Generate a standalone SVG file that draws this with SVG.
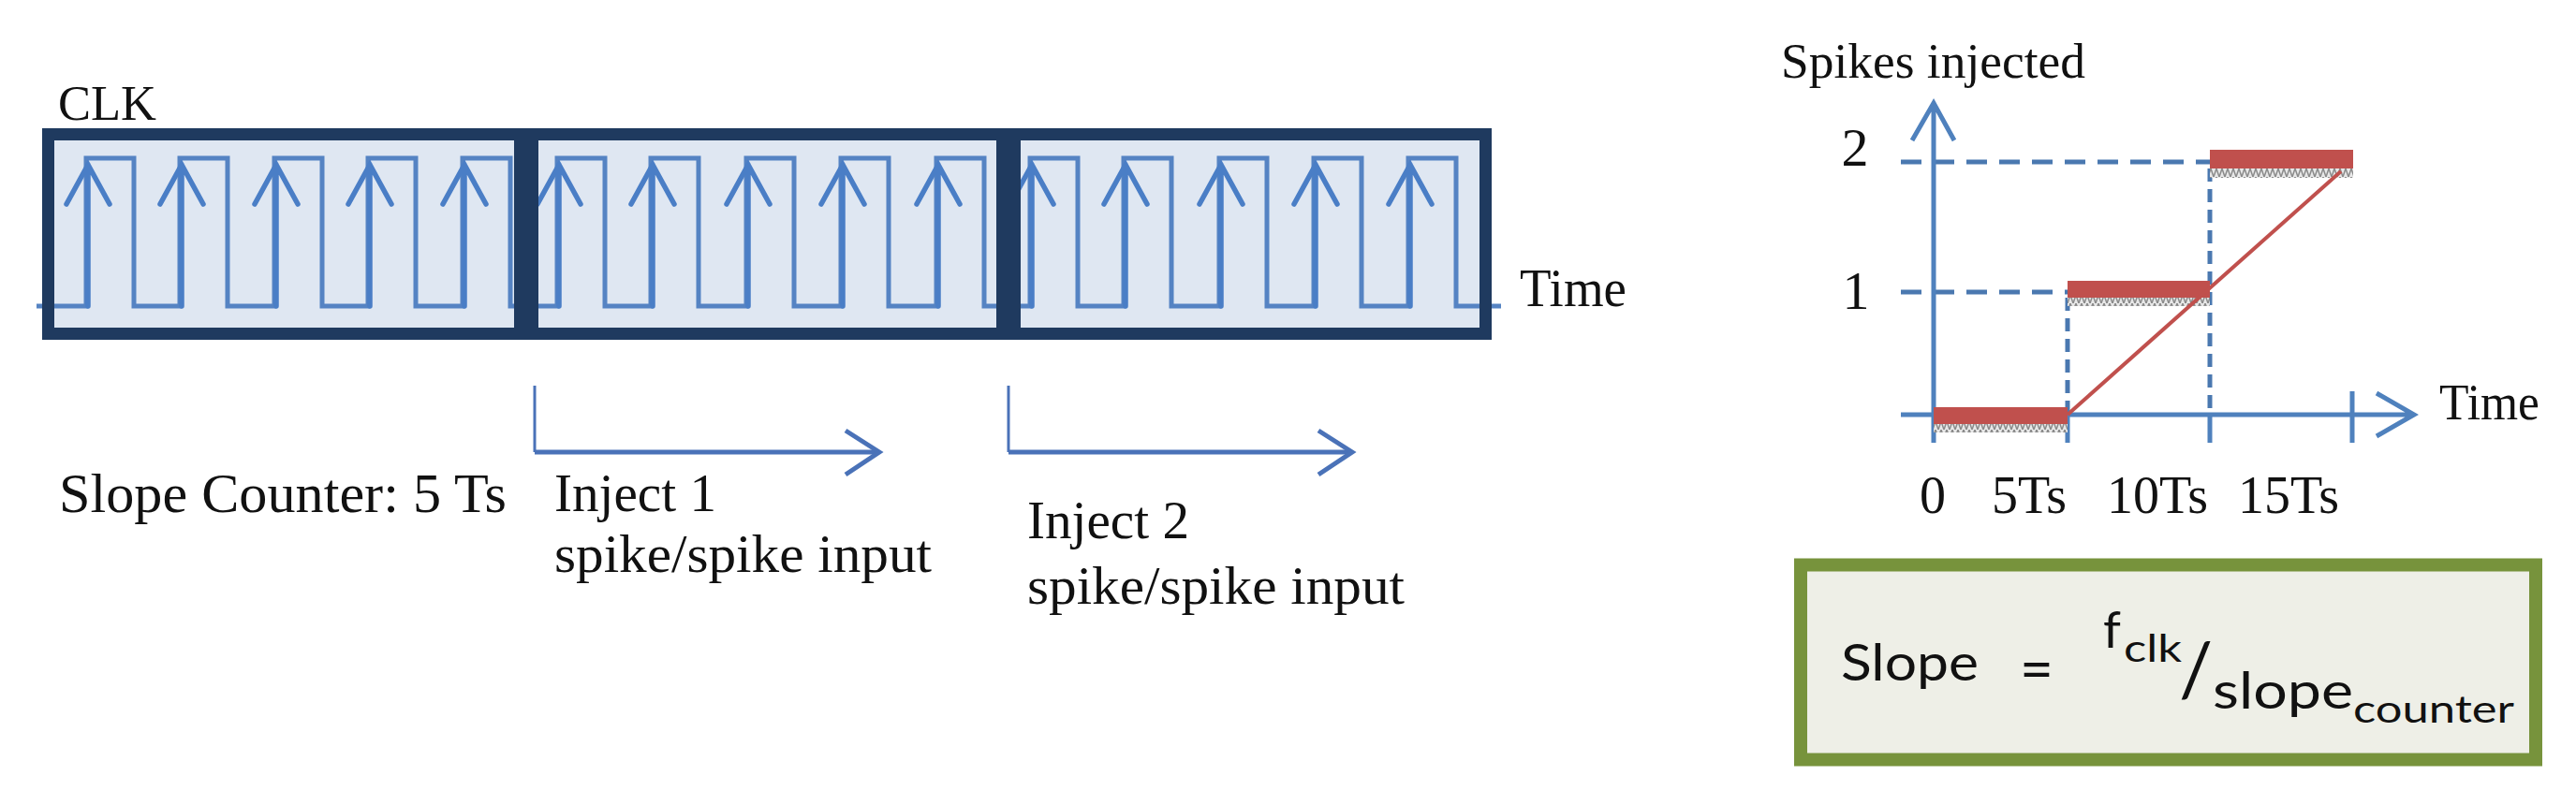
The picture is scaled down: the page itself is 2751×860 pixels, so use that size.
<svg xmlns="http://www.w3.org/2000/svg" xmlns:xlink="http://www.w3.org/1999/xlink" width="2751" height="860" viewBox="0 0 2751 860">
<style>
.serif{font-family:"Liberation Serif","Times New Roman",serif;fill:#111;}
.sans{font-family:Lato,"Open Sans","Noto Sans",sans-serif;fill:#111;}
.boxfill{fill:#dfe7f2;stroke:none;}
.boxline{fill:none;stroke:#1f3a5f;stroke-width:13;}
.wave{fill:none;stroke:#5583c3;stroke-width:5;stroke-linejoin:miter;}
.clkarrow{fill:none;stroke:#4a7ec6;stroke-width:5.5;stroke-linecap:round;}
.axis{fill:none;stroke:#4f81bd;stroke-width:5;}
.dash{fill:none;stroke:#4a78b0;stroke-width:5;}
.bar{fill:#c0504d;}
.hatch{fill:url(#hatchPat);}
.conn{fill:none;stroke:#4a72b8;}
</style>
<defs>
<path id="clkArrow" d="M0 327 V176 M-23 218 L0 176 L23 218"/>
<pattern id="hatchPat" width="6" height="9" patternUnits="userSpaceOnUse">
<rect width="6" height="9" fill="#e8e8e8"/>
<path d="M0 9 L3 0 L6 9" fill="none" stroke="#8a8a8a" stroke-width="1.5"/>
</pattern>
</defs>

<g id="clk-label"><text class="serif" x="62" y="128" font-size="52" textLength="105" lengthAdjust="spacingAndGlyphs">CLK</text></g>

<g id="clock-boxes-fill">
<rect class="boxfill" x="51.5" y="143.5" width="504" height="213"/>
<rect class="boxfill" x="568.5" y="143.5" width="502" height="213"/>
<rect class="boxfill" x="1083.5" y="143.5" width="503" height="213"/>
</g>

<g id="clock-waveform">
<path class="wave" d="M39 327 H92 V169 H143 V327 H192 V169 H243 V327 H293 V169 H344 V327 H393 V169 H444 V327 H494 V169 H545 V327 H595 V169 H646 V327 H695 V169 H746 V327 H797 V169 H848 V327 H898 V169 H949 V327 H1000 V169 H1051 V327 H1100 V169 H1151 V327 H1200 V169 H1251 V327 H1302 V169 H1353 V327 H1403 V169 H1454 V327 H1504 V169 H1555 V327 H1603"/>
<g class="clkarrow">
<use xlink:href="#clkArrow" x="94"/>
<use xlink:href="#clkArrow" x="194"/>
<use xlink:href="#clkArrow" x="295"/>
<use xlink:href="#clkArrow" x="395"/>
<use xlink:href="#clkArrow" x="496"/>
<use xlink:href="#clkArrow" x="597"/>
<use xlink:href="#clkArrow" x="697"/>
<use xlink:href="#clkArrow" x="799"/>
<use xlink:href="#clkArrow" x="900"/>
<use xlink:href="#clkArrow" x="1002"/>
<use xlink:href="#clkArrow" x="1102"/>
<use xlink:href="#clkArrow" x="1202"/>
<use xlink:href="#clkArrow" x="1304"/>
<use xlink:href="#clkArrow" x="1405"/>
<use xlink:href="#clkArrow" x="1506"/>
</g>
</g>

<g id="clk-box-1"><rect class="boxline" x="51.5" y="143.5" width="504" height="213"/></g>
<g id="clk-box-2"><rect class="boxline" x="568.5" y="143.5" width="502" height="213"/></g>
<g id="clk-box-3"><rect class="boxline" x="1083.5" y="143.5" width="503" height="213"/></g>

<g id="time-label-left"><text class="serif" x="1623" y="327" font-size="56" textLength="114" lengthAdjust="spacingAndGlyphs">Time</text></g>

<g id="slope-counter-label"><text class="serif" x="63" y="547" font-size="60" textLength="478" lengthAdjust="spacingAndGlyphs">Slope Counter: 5 Ts</text></g>
<g id="inject-1-label">
<text class="serif" x="592" y="546" font-size="58" textLength="173" lengthAdjust="spacingAndGlyphs">Inject 1</text>
<text class="serif" x="592" y="611" font-size="58" textLength="403" lengthAdjust="spacingAndGlyphs">spike/spike input</text>
</g>
<g id="inject-2-label">
<text class="serif" x="1097" y="575" font-size="58" textLength="173" lengthAdjust="spacingAndGlyphs">Inject 2</text>
<text class="serif" x="1097" y="645" font-size="58" textLength="403" lengthAdjust="spacingAndGlyphs">spike/spike input</text>
</g>

<g id="connectors">
<path class="conn" stroke-width="3" d="M571 412 V483"/>
<path class="conn" stroke-width="5" d="M571 483 H937"/>
<path class="conn" stroke-width="5" d="M903 460 L939 483 L903 507"/>
<path class="conn" stroke-width="3" d="M1077 412 V483"/>
<path class="conn" stroke-width="5" d="M1077 483 H1442"/>
<path class="conn" stroke-width="5" d="M1408 460 L1444 483 L1408 507"/>
</g>

<g id="spikes-chart">
<text class="serif" x="1902" y="83" font-size="53" textLength="325" lengthAdjust="spacingAndGlyphs">Spikes injected</text>
<text class="serif" x="1981" y="177" font-size="58" text-anchor="middle">2</text>
<text class="serif" x="1982" y="330" font-size="58" text-anchor="middle">1</text>
<text class="serif" x="2050" y="548" font-size="56">0</text>
<text class="serif" x="2127" y="548" font-size="56">5Ts</text>
<text class="serif" x="2250" y="548" font-size="56">10Ts</text>
<text class="serif" x="2390" y="548" font-size="56">15Ts</text>
<text class="serif" x="2605" y="448" font-size="54" textLength="107" lengthAdjust="spacingAndGlyphs">Time</text>
<path class="dash" stroke-dasharray="22 13" d="M2030 173 H2360"/>
<path class="dash" stroke-dasharray="22 13" d="M2030 312 H2208"/>
<path class="dash" stroke-dasharray="14 8" d="M2208 318 V443"/>
<path class="dash" stroke-dasharray="14 8" d="M2360 180 V443"/>
<path class="axis" d="M2208 443 V473 M2360 443 V473 M2512 418 V473"/>
<path class="axis" d="M2065 473 V112 M2042 150 L2065 110 L2087 150"/>
<path class="axis" d="M2030 443 H2575 M2538 420 L2578 443 L2538 466"/>
<rect class="bar" x="2065" y="435" width="143" height="18"/>
<rect class="hatch" x="2065" y="453" width="143" height="9"/>
<rect class="bar" x="2208" y="300" width="152" height="18"/>
<rect class="hatch" x="2208" y="318" width="152" height="9"/>
<rect class="bar" x="2360" y="160" width="153" height="20"/>
<rect class="hatch" x="2360" y="180" width="153" height="10"/>
<path d="M2208 443 L2500 183" fill="none" stroke="#c0504d" stroke-width="4"/>
</g>

<g id="slope-formula">
<rect x="1923" y="603.5" width="785" height="208" fill="#eeefe7" stroke="#77933c" stroke-width="14"/>
<text class="sans" x="1966" y="727" font-size="54" textLength="147" lengthAdjust="spacingAndGlyphs">Slope</text>
<text class="sans" x="2175" y="737" font-size="62" text-anchor="middle">=</text>
<text class="sans" x="2246" y="692" font-size="54">f</text>
<text class="sans" x="2268" y="707" font-size="40" textLength="62" lengthAdjust="spacingAndGlyphs">clk</text>
<text class="sans" x="2327" y="743" font-size="80">/</text>
<text class="sans" x="2363" y="757" font-size="54" textLength="150" lengthAdjust="spacingAndGlyphs">slope</text>
<text class="sans" x="2513" y="772" font-size="40" textLength="172" lengthAdjust="spacingAndGlyphs">counter</text>
</g>
</svg>
